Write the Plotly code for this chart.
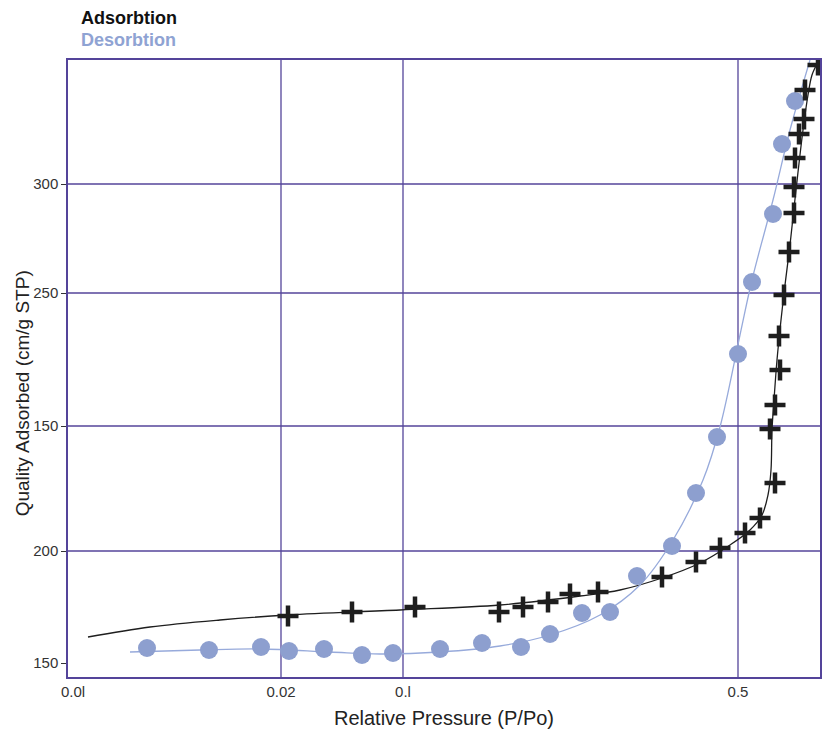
import plotly.graph_objects as go

# Axis units: x runs 0..752 across the frame, y runs -2..615 bottom to top.
x_tick_vals = [5, 213, 335, 670]
x_tick_text = ["0.0l", "0.02", "0.l", "0.5"]
y_tick_vals = [12, 124, 249, 382, 491]
y_tick_text = ["150", "200", "150", "250", "300"]
x_grid = [213, 335, 670]
y_grid = [124, 249, 382, 491]

# Adsorption branch (measured points)
ads_x = [220, 284, 347, 431, 455, 480, 502, 530, 594, 628, 652, 677, 692, 707, 702,
         707, 712, 711, 716, 721, 726, 726, 727, 731, 736, 737, 750]
ads_y = [59, 63, 68, 63, 68, 73, 81, 83, 98, 113, 127, 142, 157, 192, 246,
         270, 305, 339, 380, 423, 462, 488, 517, 541, 556, 585, 610]
# Adsorption fitted curve
ads_fit_x = [20, 82, 152, 220, 332, 432, 512, 552, 594, 632, 662, 682, 694, 700,
             703, 704, 706, 709, 713, 717, 722, 728, 735, 740, 744, 750]
ads_fit_y = [38, 48, 55, 60, 65, 70, 79, 85, 97, 112, 130, 145, 160, 180,
             205, 245, 275, 315, 355, 390, 430, 485, 545, 580, 600, 613]

# Desorption branch (measured points)
des_x = [79, 141, 193, 221, 256, 294, 325, 372, 414, 453, 482, 514, 542, 569, 604,
         628, 649, 670, 684, 705, 714, 727]
des_y = [27, 25, 28, 24, 26, 20, 22, 26, 32, 28, 41, 62, 63, 99, 129,
         182, 238, 321, 393, 461, 531, 574]
# Desorption fitted curve
des_fit_x = [62, 132, 192, 262, 312, 372, 432, 482, 532, 572, 605, 635, 652, 672,
             684, 705, 722, 742]
des_fit_y = [23, 25, 26, 23, 21, 23, 29, 40, 60, 90, 135, 195, 248, 340,
             395, 475, 545, 615]

frame = "#54449a"
black = "#1e1e1e"
blue_mark = "#8d9fcf"
blue_line = "#97aadb"

fig = go.Figure()
fig.add_trace(go.Scatter(x=ads_fit_x, y=ads_fit_y, mode="lines",
                         line=dict(color=black, width=1.3, shape="spline"),
                         hoverinfo="skip", showlegend=False))
fig.add_trace(go.Scatter(x=des_fit_x, y=des_fit_y, mode="lines",
                         line=dict(color=blue_line, width=1.3, shape="spline"),
                         hoverinfo="skip", showlegend=False))
fig.add_trace(go.Scatter(x=des_x, y=des_y, mode="markers", name="Desorbtion",
                         marker=dict(symbol="circle", size=18, color=blue_mark),
                         showlegend=False))
fig.add_trace(go.Scatter(x=ads_x, y=ads_y, mode="markers", name="Adsorbtion",
                         marker=dict(symbol="cross-thin", size=15,
                                     line=dict(color=black, width=4.5)),
                         showlegend=False))

shapes = []
for gx in x_grid:
    shapes.append(dict(type="line", xref="x", yref="paper", x0=gx, x1=gx, y0=0, y1=1,
                       line=dict(color=frame, width=1.3), layer="below"))
for gy in y_grid:
    shapes.append(dict(type="line", xref="paper", yref="y", x0=0, x1=1, y0=gy, y1=gy,
                       line=dict(color=frame, width=1.3), layer="below"))

fig.update_layout(
    width=833, height=732,
    margin=dict(l=68, r=13, t=60, b=55),
    plot_bgcolor="white", paper_bgcolor="white",
    font=dict(family="Liberation Sans, Arial, sans-serif", color="#222"),
    shapes=shapes,
    annotations=[
        dict(text="<b>Adsorbtion</b>", xref="paper", yref="paper", x=0.014, y=1.068,
             xanchor="left", yanchor="middle", showarrow=False,
             font=dict(size=18, color="#111", family="Liberation Sans, Arial")),
        dict(text="<b>Desorbtion</b>", xref="paper", yref="paper", x=0.014, y=1.0325,
             xanchor="left", yanchor="middle", showarrow=False,
             font=dict(size=18, color="#8fa3d3", family="Liberation Sans, Arial")),
        dict(text="Quality Adsorbed (cm/g STP)", xref="paper", yref="paper",
             x=-0.061, y=0.46, xanchor="center", yanchor="middle", textangle=-90,
             showarrow=False, font=dict(size=19, color="#222")),
    ],
)
fig.update_xaxes(range=[0, 752], tickvals=x_tick_vals, ticktext=x_tick_text,
                 automargin=False,
                 showgrid=False, zeroline=False, showline=True, linecolor=frame,
                 linewidth=1.5, mirror=True, ticks="", tickfont=dict(size=15, color="#333"),
                 title=dict(text="Relative Pressure (P/Po)", font=dict(size=20, color="#222"),
                            standoff=12))
fig.update_yaxes(range=[-2, 615], tickvals=y_tick_vals, ticktext=y_tick_text,
                 automargin=False,
                 showgrid=False, zeroline=False, showline=True, linecolor=frame,
                 linewidth=1.5, mirror=True, ticks="outside", ticklen=5, tickcolor="#333",
                 tickfont=dict(size=15, color="#333"))

fig.write_html("out.html")
